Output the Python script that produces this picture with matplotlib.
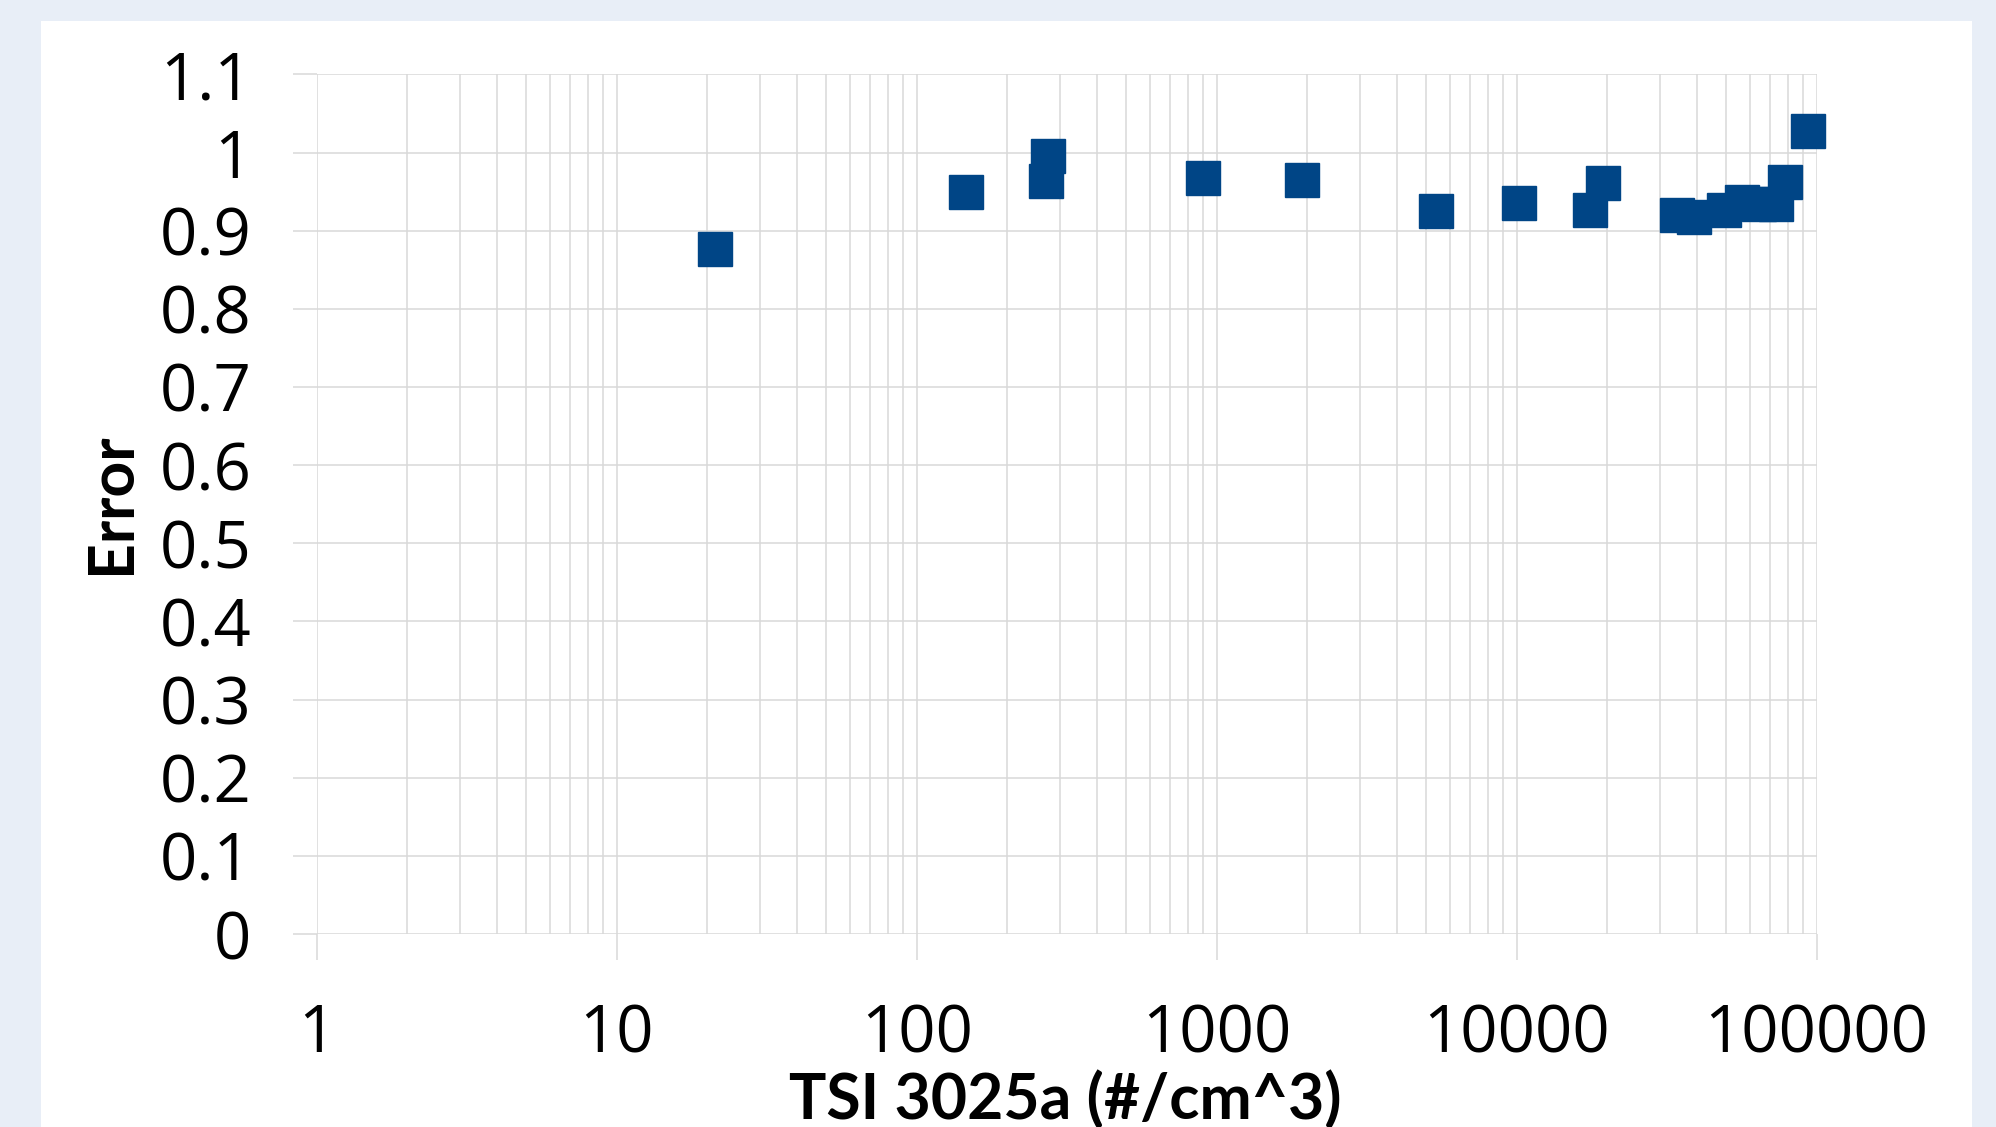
import matplotlib
matplotlib.use("Agg")
import matplotlib.pyplot as plt
from matplotlib.patches import Rectangle
from matplotlib.ticker import FixedLocator, FuncFormatter, LogLocator

# concentration read from TSI 3025a (#/cm^3) and error ratio
tsi_conc = [21.2, 146, 273, 269, 897, 1921, 5395, 10180, 17580, 19460,
            34270, 39000, 49100, 56450, 64000, 72970, 78200, 93700]
error = [0.877, 0.950, 0.996, 0.964, 0.968, 0.965, 0.925, 0.935, 0.926, 0.961,
         0.920, 0.917, 0.926, 0.937, 0.934, 0.934, 0.962, 1.027]

x_ticks = [1, 10, 100, 1000, 10000, 100000]
y_ticks = [0, 0.1, 0.2, 0.3, 0.4, 0.5, 0.6, 0.7, 0.8, 0.9, 1.0, 1.1]

W, H = 1996, 1127
fig = plt.figure(figsize=(W / 100, H / 100), dpi=100)
fig.patch.set_facecolor("#E8EEF7")
panel = Rectangle((41 / W, 0), (1972 - 41) / W, 1 - 21 / H,
                  transform=fig.transFigure, facecolor="white",
                  edgecolor="none", zorder=-10)
fig.add_artist(panel)

ax_left, ax_right = 316.7, 1816.7
ax_top, ax_bottom = 74.4, 934
ax = fig.add_axes([ax_left / W, 1 - ax_bottom / H,
                   (ax_right - ax_left) / W, (ax_bottom - ax_top) / H])
ax.set_facecolor("none")

grid_c = "#D9D9D9"
ax.set_xscale("log")
ax.set_xlim(1, 100000)
ax.set_ylim(0, 1.1)
ax.xaxis.set_major_locator(FixedLocator(x_ticks))
ax.xaxis.set_minor_locator(LogLocator(base=10, subs=range(2, 10)))
ax.xaxis.set_major_formatter(FuncFormatter(lambda v, p: f"{v:.0f}"))
ax.xaxis.set_minor_formatter(FuncFormatter(lambda v, p: ""))
ax.yaxis.set_major_locator(FixedLocator(y_ticks))
ax.yaxis.set_major_formatter(FuncFormatter(lambda v, p: f"{v:g}"))

ax.grid(True, which="major", color=grid_c, lw=1.1)
ax.grid(True, which="minor", axis="x", color=grid_c, lw=1.1)
for s in ax.spines.values():
    s.set_visible(False)

ax.tick_params(axis="x", which="major", length=19, width=1.1, color=grid_c,
               pad=30, labelsize=47)
ax.tick_params(axis="x", which="minor", length=0)
ax.tick_params(axis="y", which="major", length=17, width=1.1, color=grid_c,
               pad=30, labelsize=47)
for lab in ax.get_xticklabels() + ax.get_yticklabels():
    lab.set_fontfamily("Open Sans")

ax.plot(tsi_conc, error, ls="none", marker="s", markersize=25,
        color="#004586", zorder=3, clip_on=False)

fig.text(1065 / W, 1 - 1100 / H, "TSI 3025a (#/cm^3)", ha="center",
         va="center", fontsize=45, fontweight="bold", family="Lato")
fig.text(112 / W, 1 - 503 / H, "Error", ha="center", va="center",
         rotation=90, fontsize=45, fontweight="bold", family="Lato")

fig.savefig("out.png", dpi=100, facecolor=fig.get_facecolor())
